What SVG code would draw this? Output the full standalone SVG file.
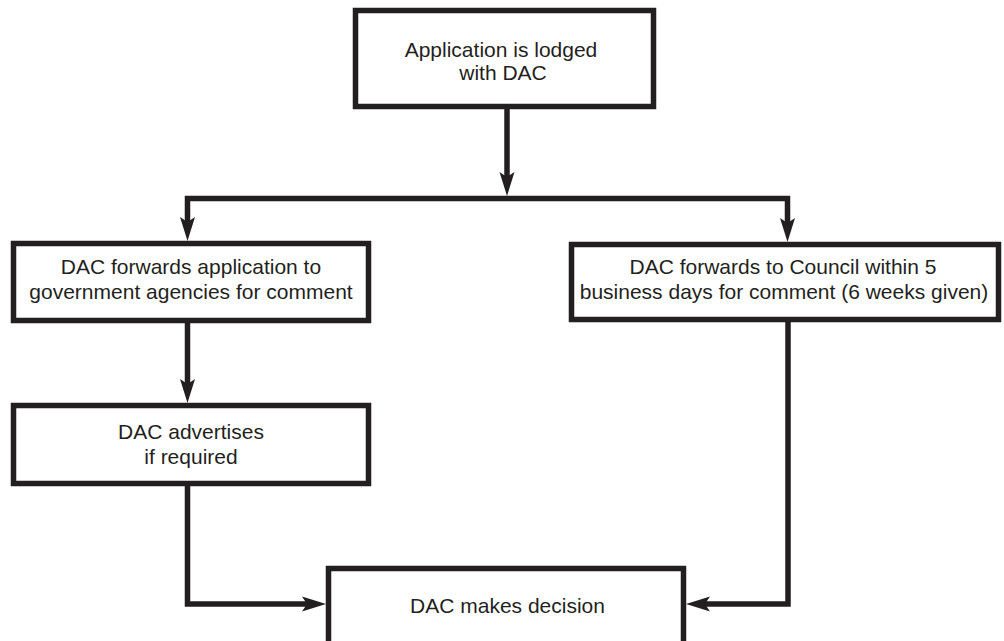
<svg xmlns="http://www.w3.org/2000/svg" width="1004" height="641" viewBox="0 0 1004 641">
<style>
.box{fill:#fff;stroke:#231f20;stroke-width:5.5}
.t{font-family:"Liberation Sans",Arial,sans-serif;font-size:21px;fill:#231f20;text-anchor:middle}
.c{fill:none;stroke:#231f20;stroke-width:5.5}
</style>
<defs>
<marker id="arr" markerUnits="userSpaceOnUse" orient="auto-start-reverse" overflow="visible" markerWidth="1" markerHeight="1" refX="0" refY="0">
<path d="M15 0 L-9 -7.5 L-4 0 L-9 7.5Z" fill="#231f20"/>
</marker>
</defs>
<rect width="1004" height="641" fill="#fff"/>
<g id="connectors">
<path class="c" d="M507 109 V181" marker-end="url(#arr)"/>
<path class="c" d="M187.5 226 V198.5 H787.5 V227" marker-start="url(#arr)" marker-end="url(#arr)"/>
<path class="c" d="M187.5 323 V388" marker-end="url(#arr)"/>
<path class="c" d="M187.5 486 V604 H311" marker-end="url(#arr)"/>
<path class="c" d="M788 321 V604 H701" marker-end="url(#arr)"/>
</g>
<g id="lodged">
<rect class="box" x="355.5" y="10.5" width="298" height="96"/>
<text class="t" x="501" y="57">Application is lodged</text>
<text class="t" x="503" y="80">with DAC</text>
</g>
<g id="agencies">
<rect class="box" x="13.5" y="243.5" width="355" height="77"/>
<text class="t" x="191" y="274">DAC forwards application to</text>
<text class="t" x="191" y="299">government agencies for comment</text>
</g>
<g id="council">
<rect class="box" x="571.5" y="244.5" width="427" height="75"/>
<text class="t" x="783" y="274">DAC forwards to Council within 5</text>
<text class="t" x="784" y="299">business days for comment (6 weeks given)</text>
</g>
<g id="advertises">
<rect class="box" x="13.5" y="405.5" width="355" height="78"/>
<text class="t" x="191" y="439">DAC advertises</text>
<text class="t" x="191" y="464">if required</text>
</g>
<g id="decision">
<rect class="box" x="328.5" y="568.5" width="355" height="100"/>
<text class="t" x="507.5" y="613">DAC makes decision</text>
</g>
</svg>
